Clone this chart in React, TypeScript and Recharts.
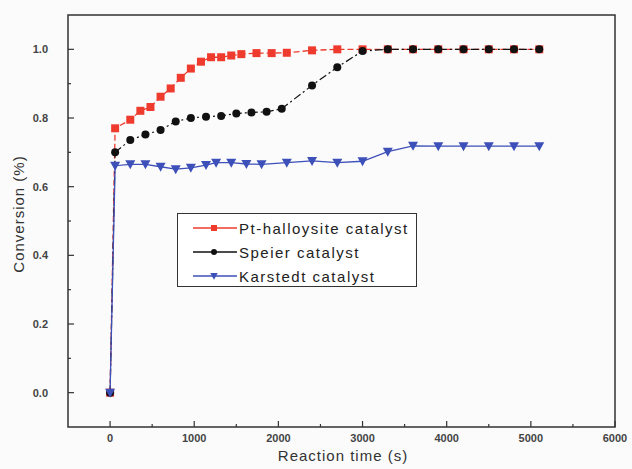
import React from 'react';
import {
  LineChart, Line, XAxis, YAxis, Legend, ReferenceArea
} from 'recharts';

// Pt-halloysite catalyst
const ptTime = [0, 60, 240, 360, 480, 600, 720, 840, 960, 1080, 1200, 1320, 1440, 1560, 1740, 1920, 2100, 2400, 2700, 3000, 3300, 3600, 3900, 4200, 4500, 4800, 5100];
const ptConv = [0, 0.77, 0.795, 0.821, 0.832, 0.862, 0.886, 0.917, 0.944, 0.964, 0.977, 0.977, 0.982, 0.986, 0.989, 0.989, 0.99, 0.997, 1.0, 1.0, 1.0, 1.0, 1.0, 1.0, 1.0, 1.0, 1.0];

// Speier catalyst
const spTime = [0, 60, 240, 420, 600, 780, 960, 1140, 1320, 1500, 1680, 1860, 2040, 2400, 2700, 3000, 3300, 3600, 3900, 4200, 4500, 4800, 5100];
const spConv = [0, 0.70, 0.736, 0.752, 0.765, 0.79, 0.80, 0.804, 0.806, 0.813, 0.816, 0.818, 0.827, 0.895, 0.948, 0.995, 1.0, 1.0, 1.0, 1.0, 1.0, 1.0, 1.0];

// Karstedt catalyst
const kaTime = [0, 60, 240, 420, 600, 780, 960, 1140, 1260, 1440, 1620, 1800, 2100, 2400, 2700, 3000, 3300, 3600, 3900, 4200, 4500, 4800, 5100];
const kaConv = [0, 0.661, 0.665, 0.665, 0.658, 0.651, 0.655, 0.663, 0.670, 0.670, 0.666, 0.665, 0.670, 0.675, 0.670, 0.674, 0.702, 0.719, 0.718, 0.718, 0.718, 0.718, 0.718];

const xTicks = [0, 500, 1000, 1500, 2000, 2500, 3000, 3500, 4000, 4500, 5000, 5500, 6000];
const yTicks = [0, 0.1, 0.2, 0.3, 0.4, 0.5, 0.6, 0.7, 0.8, 0.9, 1.0];

const RED = '#ee3b2e';
const BLACK = '#111111';
const BLUE = '#3d4fb8';

const toRows = (t: number[], v: number[]) => t.map((x, i) => ({ t: x, v: v[i] }));
const ptData = toRows(ptTime, ptConv);
const spData = toRows(spTime, spConv);
const kaData = toRows(kaTime, kaConv);

const series = [
  { name: 'Pt-halloysite catalyst', color: RED, shape: 'square' },
  { name: 'Speier catalyst', color: BLACK, shape: 'circle' },
  { name: 'Karstedt catalyst', color: BLUE, shape: 'triangle' },
];

const Marker = ({ cx, cy, shape, color, s = 1 }: any) => {
  if (cx == null || cy == null) return null;
  if (shape === 'square') return <rect x={cx - 4 * s} y={cy - 4 * s} width={8 * s} height={8 * s} fill={color} />;
  if (shape === 'circle') return <circle cx={cx} cy={cy} r={4 * s} fill={color} />;
  return <path d={`M${cx - 5 * s},${cy - 4 * s} L${cx + 5 * s},${cy - 4 * s} L${cx},${cy + 5 * s} Z`} fill={color} />;
};

const tickFont = { fontFamily: 'Liberation Sans, Arial, sans-serif', fontSize: 11, fontWeight: 700, fill: '#444' };

const XTick = ({ x, y, payload }: any) => {
  const major = payload.value % 1000 === 0;
  return (
    <g>
      <line x1={x} x2={x} y1={y} y2={y - (major ? 6 : 3)} stroke="#333" strokeWidth={1.2} />
      {major && <text x={x} y={y + 15} textAnchor="middle" {...tickFont}>{payload.value}</text>}
    </g>
  );
};

const YTick = ({ x, y, payload }: any) => {
  const major = Math.round(payload.value * 10) % 2 === 0;
  return (
    <g>
      <line x1={x} x2={x + (major ? 6 : 3)} y1={y} y2={y} stroke="#333" strokeWidth={1.2} />
      {major && <text x={x - 20} y={y + 4} textAnchor="end" {...tickFont}>{payload.value.toFixed(1)}</text>}
    </g>
  );
};

const LegendBox = () => (
  <div style={{ border: '1.5px solid #333', background: '#fff', width: 240, height: 74, padding: '2px 0 0 14px', boxSizing: 'border-box' }}>
    {series.map(s => (
      <div key={s.name} style={{ display: 'flex', alignItems: 'center', height: 24 }}>
        <svg width={46} height={16}>
          <line x1={1} x2={45} y1={8} y2={8} stroke={s.color} strokeWidth={1.5} />
          <Marker cx={22} cy={8} shape={s.shape} color={s.color} s={0.75} />
        </svg>
        <span style={{ fontFamily: 'Liberation Sans, Arial, sans-serif', fontSize: 15, letterSpacing: 1.5, color: '#222', marginLeft: 1 }}>{s.name}</span>
      </div>
    ))}
  </div>
);

export default function App() {
  return (
    <div style={{ position: 'absolute', left: 0, top: 0, width: 632, height: 469, background: '#fbfbfc' }}>
      <LineChart width={632} height={469} margin={{ top: 15, right: 17, bottom: 12, left: 28 }}>
        <ReferenceArea x1={-500} x2={6000} y1={-0.1} y2={1.1} fill="none" stroke="#333" strokeWidth={1.5} ifOverflow="visible" />
        <XAxis type="number" dataKey="t" domain={[-500, 6000]} ticks={xTicks} allowDataOverflow
          axisLine={false} tickLine={false} tickSize={0} tickMargin={0} tick={<XTick />} height={30} interval={0} />
        <YAxis type="number" domain={[-0.1, 1.1]} ticks={yTicks} allowDataOverflow
          axisLine={false} tickLine={false} tickSize={0} tickMargin={0} tick={<YTick />} width={40} interval={0} />
        <Legend layout="vertical" align="center" verticalAlign="middle" wrapperStyle={{ left: 177, top: 213, width: 242 }} content={<LegendBox />} />
        <Line data={ptData} dataKey="v" name={series[0].name} stroke={RED} strokeWidth={1.3} strokeDasharray="6 3" isAnimationActive={false}
          dot={(p: any) => <Marker key={`p${p.index}`} cx={p.cx} cy={p.cy} shape="square" color={RED} />} />
        <Line data={spData} dataKey="v" name={series[1].name} stroke={BLACK} strokeWidth={1.2} strokeDasharray="8 3 2 3" isAnimationActive={false}
          dot={(p: any) => <Marker key={`s${p.index}`} cx={p.cx} cy={p.cy} shape="circle" color={BLACK} />} />
        <Line data={kaData} dataKey="v" name={series[2].name} stroke={BLUE} strokeWidth={1.3} isAnimationActive={false}
          dot={(p: any) => <Marker key={`k${p.index}`} cx={p.cx} cy={p.cy} shape="triangle" color={BLUE} />} />
      </LineChart>
      <div style={{ position: 'absolute', left: 343, top: 447, transform: 'translateX(-50%)', whiteSpace: 'nowrap', fontFamily: 'Liberation Sans, Arial, sans-serif', fontSize: 15, letterSpacing: 1, color: '#333' }}>
        Reaction time (s)
      </div>
      <div style={{ position: 'absolute', left: 18, top: 214, transform: 'translate(-50%, -50%) rotate(-90deg)', whiteSpace: 'nowrap', fontFamily: 'Liberation Sans, Arial, sans-serif', fontSize: 15, letterSpacing: 1, color: '#333' }}>
        Conversion (%)
      </div>
    </div>
  );
}
